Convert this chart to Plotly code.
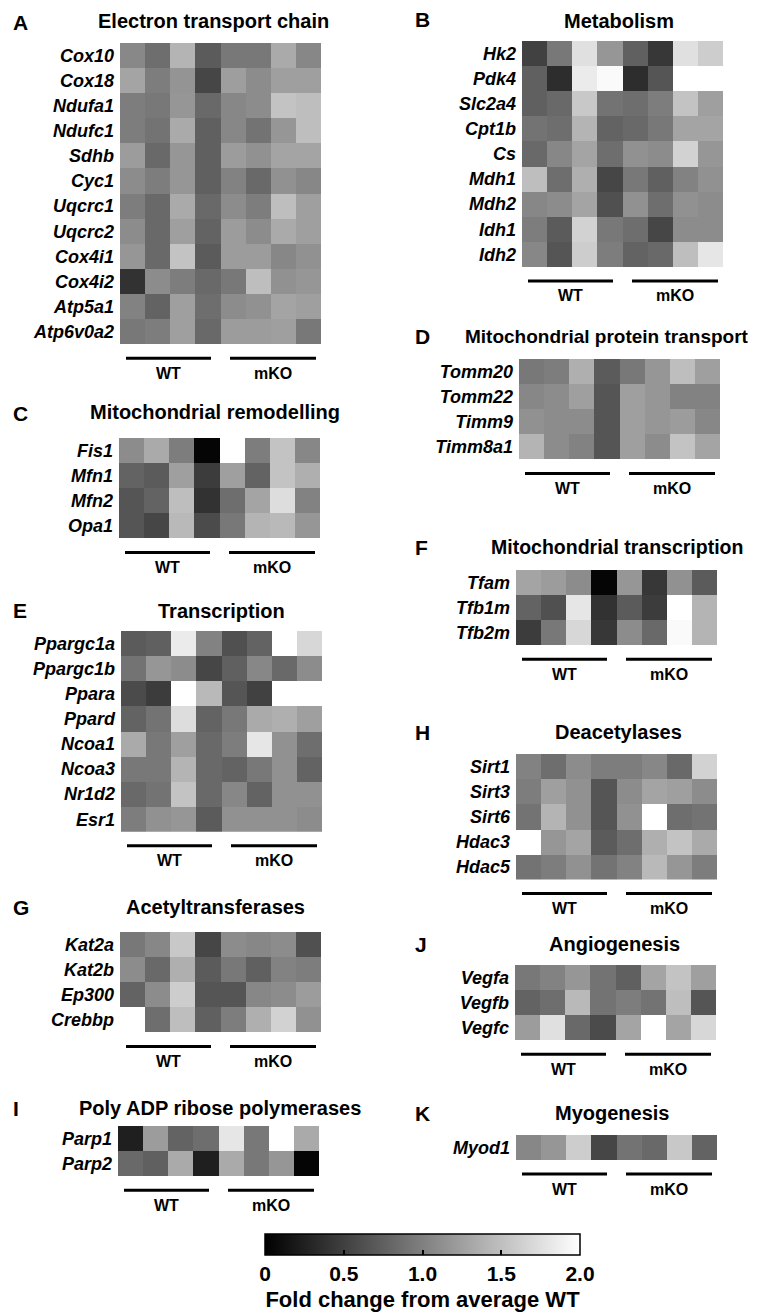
import plotly.graph_objects as go

W, H = 760, 1315
FONT = "Liberation Sans, Arial, sans-serif"

# ---------------- data (fold change from average WT) ----------------
samples = ["WT1", "WT2", "WT3", "WT4", "mKO1", "mKO2", "mKO3", "mKO4"]
groups = ["WT", "mKO"]

etc_genes = ["Cox10", "Cox18", "Ndufa1", "Ndufc1", "Sdhb", "Cyc1", "Uqcrc1",
             "Uqcrc2", "Cox4i1", "Cox4i2", "Atp5a1", "Atp6v0a2"]
etc_values = [
    [1.07, 0.86, 1.41, 0.71, 0.94, 0.94, 1.33, 1.06],
    [1.29, 0.98, 1.16, 0.55, 1.24, 1.10, 1.25, 1.25],
    [0.98, 0.94, 1.18, 0.82, 1.06, 1.10, 1.53, 1.49],
    [0.98, 0.90, 1.33, 0.75, 1.06, 0.90, 1.18, 1.49],
    [1.22, 0.82, 1.18, 0.75, 1.22, 1.14, 1.29, 1.29],
    [1.10, 0.98, 1.18, 0.75, 1.02, 0.82, 1.14, 1.06],
    [0.98, 0.82, 1.33, 0.82, 1.10, 0.98, 1.49, 1.25],
    [1.10, 0.82, 1.25, 0.78, 1.22, 1.10, 1.33, 1.25],
    [1.18, 0.82, 1.53, 0.71, 1.22, 1.22, 1.06, 1.14],
    [0.39, 1.10, 0.98, 0.82, 0.94, 1.49, 1.14, 1.18],
    [1.02, 0.78, 1.25, 0.86, 1.10, 1.14, 1.29, 1.25],
    [0.94, 0.98, 1.25, 0.82, 1.22, 1.22, 1.25, 0.94],
]

met_genes = ["Hk2", "Pdk4", "Slc2a4", "Cpt1b", "Cs", "Mdh1", "Mdh2", "Idh1", "Idh2"]
met_values = [
    [0.51, 0.94, 1.76, 1.18, 0.75, 0.43, 1.76, 1.61],
    [0.75, 0.35, 1.84, 1.96, 0.35, 0.67, 2.30, 2.30],
    [0.75, 0.82, 1.57, 0.90, 0.86, 0.98, 1.53, 1.25],
    [0.90, 0.86, 1.41, 0.78, 0.82, 0.94, 1.29, 1.29],
    [0.82, 1.06, 1.29, 0.86, 1.14, 1.10, 1.65, 1.18],
    [1.49, 0.86, 1.37, 0.55, 0.94, 0.75, 1.02, 1.14],
    [1.06, 1.10, 1.29, 0.63, 1.14, 0.86, 1.14, 1.10],
    [0.98, 0.71, 1.65, 0.94, 0.86, 0.55, 1.10, 1.10],
    [1.06, 0.67, 1.61, 0.98, 0.78, 0.82, 1.49, 1.80],
]

rem_genes = ["Fis1", "Mfn1", "Mfn2", "Opa1"]
rem_values = [
    [1.10, 1.33, 0.98, 0.04, 2.30, 0.98, 1.53, 1.06],
    [0.78, 0.71, 1.25, 0.47, 1.25, 0.78, 1.53, 1.37],
    [0.67, 0.78, 1.49, 0.39, 0.86, 1.29, 1.73, 1.02],
    [0.67, 0.55, 1.45, 0.59, 0.94, 1.41, 1.45, 1.18],
]

prot_genes = ["Tomm20", "Tomm22", "Timm9", "Timm8a1"]
prot_values = [
    [0.94, 0.98, 1.37, 0.71, 0.94, 1.18, 1.49, 1.25],
    [1.06, 1.10, 1.25, 0.67, 1.25, 1.18, 1.02, 1.02],
    [1.14, 1.10, 1.10, 0.67, 1.25, 1.18, 1.22, 1.06],
    [1.41, 1.10, 1.02, 0.67, 1.25, 1.10, 1.53, 1.29],
]

tx_genes = ["Ppargc1a", "Ppargc1b", "Ppara", "Ppard", "Ncoa1", "Ncoa3", "Nr1d2", "Esr1"]
tx_values = [
    [0.71, 0.75, 1.84, 1.02, 0.63, 0.78, 2.30, 1.69],
    [0.90, 1.18, 1.10, 0.55, 0.75, 1.06, 0.82, 1.10],
    [0.59, 0.47, 2.30, 1.45, 0.67, 0.51, 2.30, 2.30],
    [0.78, 0.90, 1.73, 0.78, 0.94, 1.33, 1.37, 1.25],
    [1.33, 0.94, 1.25, 0.82, 0.98, 1.80, 1.14, 0.86],
    [0.94, 0.94, 1.41, 0.82, 0.78, 0.94, 1.14, 0.78],
    [0.82, 0.90, 1.53, 0.82, 1.06, 0.78, 1.14, 1.14],
    [0.98, 1.14, 1.18, 0.71, 1.14, 1.14, 1.14, 1.10],
]

mtx_genes = ["Tfam", "Tfb1m", "Tfb2m"]
mtx_values = [
    [1.29, 1.22, 1.10, 0.04, 1.18, 0.43, 1.14, 0.71],
    [0.78, 0.63, 1.80, 0.39, 0.71, 0.47, 2.30, 1.41],
    [0.47, 0.94, 1.69, 0.43, 1.10, 0.82, 1.96, 1.41],
]

acet_genes = ["Kat2a", "Kat2b", "Ep300", "Crebbp"]
acet_values = [
    [0.94, 1.06, 1.57, 0.55, 1.10, 1.06, 1.10, 0.63],
    [1.10, 0.82, 1.37, 0.71, 0.94, 0.75, 1.02, 0.98],
    [0.78, 1.10, 1.61, 0.67, 0.67, 1.06, 1.10, 1.22],
    [2.30, 0.86, 1.49, 0.75, 0.98, 1.37, 1.65, 1.14],
]

deac_genes = ["Sirt1", "Sirt3", "Sirt6", "Hdac3", "Hdac5"]
deac_values = [
    [1.02, 0.86, 1.10, 0.98, 0.98, 1.06, 0.82, 1.65],
    [0.98, 1.25, 1.14, 0.67, 1.10, 1.29, 1.25, 1.10],
    [0.90, 1.41, 1.14, 0.67, 1.14, 2.30, 0.86, 0.90],
    [2.30, 1.18, 1.29, 0.71, 0.86, 1.37, 1.53, 1.33],
    [0.90, 0.98, 1.14, 0.90, 1.02, 1.45, 1.18, 0.98],
]

parp_genes = ["Parp1", "Parp2"]
parp_values = [
    [0.24, 1.22, 0.78, 0.86, 1.80, 0.94, 2.30, 1.33],
    [0.82, 0.75, 1.33, 0.24, 1.33, 0.94, 1.18, 0.04],
]

ang_genes = ["Vegfa", "Vegfb", "Vegfc"]
ang_values = [
    [0.94, 1.02, 1.18, 0.90, 0.75, 1.29, 1.53, 1.25],
    [0.78, 0.86, 1.45, 0.90, 0.98, 0.90, 1.49, 0.67],
    [1.22, 1.76, 0.82, 0.59, 1.29, 2.30, 1.29, 1.69],
]

myo_genes = ["Myod1"]
myo_values = [
    [1.06, 1.18, 1.61, 0.55, 0.90, 0.82, 1.57, 0.78],
]

cbar_tickvals = [0, 0.5, 1.0, 1.5, 2.0]
cbar_ticktext = ["0", "0.5", "1.0", "1.5", "2.0"]
cbar_title = "Fold change from average WT"

# ---------------- layout (pixel positions) ----------------
panels = [
    dict(letter="A", title="Electron transport chain", genes=etc_genes, values=etc_values,
         x0=112, y0=35, tx=205, ty=13, lx=3, ly=14, tsize=20),
    dict(letter="B", title="Metabolism", genes=met_genes, values=met_values,
         x0=514, y0=33, tx=611, ty=13, lx=405, ly=11, tsize=20),
    dict(letter="C", title="Mitochondrial remodelling", genes=rem_genes, values=rem_values,
         x0=111, y0=430, tx=207, ty=404, lx=3, ly=405, tsize=20),
    dict(letter="D", title="Mitochondrial protein transport", genes=prot_genes, values=prot_values,
         x0=511, y0=351, tx=599, ty=328, lx=405, ly=328, tsize=19),
    dict(letter="E", title="Transcription", genes=tx_genes, values=tx_values,
         x0=113, y0=623, tx=213, ty=603, lx=3, ly=602, tsize=20),
    dict(letter="F", title="Mitochondrial transcription", genes=mtx_genes, values=mtx_values,
         x0=508, y0=562, tx=609, ty=539, lx=405, ly=539, tsize=19.5),
    dict(letter="G", title="Acetyltransferases", genes=acet_genes, values=acet_values,
         x0=112, y0=924, tx=207, ty=899, lx=3, ly=899, tsize=20),
    dict(letter="H", title="Deacetylases", genes=deac_genes, values=deac_values,
         x0=508, y0=746, tx=610, ty=724, lx=405, ly=724, tsize=20),
    dict(letter="I", title="Poly ADP ribose polymerases", genes=parp_genes, values=parp_values,
         x0=110, y0=1118, tx=212, ty=1100, lx=3, ly=1100, tsize=20),
    dict(letter="J", title="Angiogenesis", genes=ang_genes, values=ang_values,
         x0=507, y0=957, tx=606, ty=936, lx=405, ly=936, tsize=20),
    dict(letter="K", title="Myogenesis", genes=myo_genes, values=myo_values,
         x0=508, y0=1127, tx=604, ty=1105, lx=405, ly=1105, tsize=20),
]

HM_W = 201
ROW_H = 25.1
CB_X0, CB_X1, CB_Y0, CB_H = 257, 572, 1226, 21


def px(x):
    return x / W


def py(y):
    return 1 - y / H


fig = go.Figure()
layout = dict(
    width=W, height=H, autosize=False,
    margin=dict(l=0, r=0, t=0, b=0),
    paper_bgcolor="white", plot_bgcolor="white",
    font=dict(family=FONT, color="black"),
    showlegend=False,
)
shapes = []
annotations = []

for i, p in enumerate(panels):
    n = len(p["genes"])
    suffix = "" if i == 0 else str(i + 1)
    xa, ya = "x" + suffix, "y" + suffix
    top = p["y0"]
    bottom = top + n * ROW_H
    x0 = p["x0"]
    x1 = x0 + HM_W

    trace = go.Heatmap(
        z=p["values"], x=list(range(len(samples))), y=list(range(n)),
        colorscale=[[0, "rgb(0,0,0)"], [1, "rgb(255,255,255)"]],
        zmin=0, zmax=2, xaxis=xa, yaxis=ya,
        showscale=(i == 0), xgap=0, ygap=0,
    )
    if i == 0:
        trace.colorbar = dict(
            orientation="h",
            x=px((CB_X0 + CB_X1) / 2), xanchor="center",
            y=py(CB_Y0), yanchor="top",
            len=CB_X1 - CB_X0, lenmode="pixels",
            thickness=CB_H, thicknessmode="pixels",
            xpad=0, ypad=0,
            outlinewidth=1.5, outlinecolor="black",
            tickmode="array", tickvals=cbar_tickvals, ticktext=cbar_ticktext,
            ticks="inside", ticklen=5, tickwidth=1.5, tickcolor="black",
            tickfont=dict(size=21, family=FONT, color="black", weight="bold"),
            title=dict(text=cbar_title, side="bottom",
                       font=dict(size=22, family=FONT, color="black", weight="bold")),
        )
    fig.add_trace(trace)

    layout["xaxis" + suffix] = dict(
        domain=[px(x0), px(x1)], range=[-0.5, len(samples) - 0.5],
        showticklabels=False, showgrid=False, zeroline=False, showline=False,
        ticks="", anchor=ya, fixedrange=True,
    )
    layout["yaxis" + suffix] = dict(
        domain=[py(bottom), py(top)], range=[n - 0.5, -0.5],
        tickmode="array", tickvals=list(range(n)),
        ticktext=[g for g in p["genes"]],
        tickfont=dict(size=18, family=FONT, color="black", weight="bold", style="italic"),
        showgrid=False, zeroline=False, showline=False, ticks="",
        ticklabelstandoff=5, anchor=xa, fixedrange=True,
    )

    # group bars + labels
    bar_y = bottom + 14
    lab_y = bar_y + 15
    wt = (x0 + 6, x0 + 91)
    ko = (x0 + 110, x0 + 196)
    for (a, b), g in zip([wt, ko], groups):
        shapes.append(dict(type="line", xref="paper", yref="paper",
                           x0=px(a), x1=px(b), y0=py(bar_y), y1=py(bar_y),
                           line=dict(color="black", width=3)))
        annotations.append(dict(xref="paper", yref="paper", x=px((a + b) / 2), y=py(lab_y),
                                text=g, showarrow=False, xanchor="center", yanchor="middle",
                                font=dict(size=16, family=FONT, color="black", weight="bold")))

    annotations.append(dict(xref="paper", yref="paper", x=px(p["tx"]), y=py(p["ty"]),
                            text=p["title"], showarrow=False, xanchor="center", yanchor="middle",
                            font=dict(size=p["tsize"], family=FONT, color="black", weight="bold")))
    annotations.append(dict(xref="paper", yref="paper", x=px(p["lx"]), y=py(p["ly"]),
                            text=p["letter"], showarrow=False, xanchor="left", yanchor="middle",
                            font=dict(size=21, family=FONT, color="black", weight="bold")))

# small tick marks along the top edge of the colour bar (interior ticks)
for v in cbar_tickvals[1:-1]:
    xt = CB_X0 + (CB_X1 - CB_X0) * v / 2.0
    shapes.append(dict(type="line", xref="paper", yref="paper",
                       x0=px(xt), x1=px(xt), y0=py(CB_Y0), y1=py(CB_Y0 + 5),
                       line=dict(color="black", width=1.5)))

layout["shapes"] = shapes
layout["annotations"] = annotations
fig.update_layout(**layout)
fig.write_html("out.html")
